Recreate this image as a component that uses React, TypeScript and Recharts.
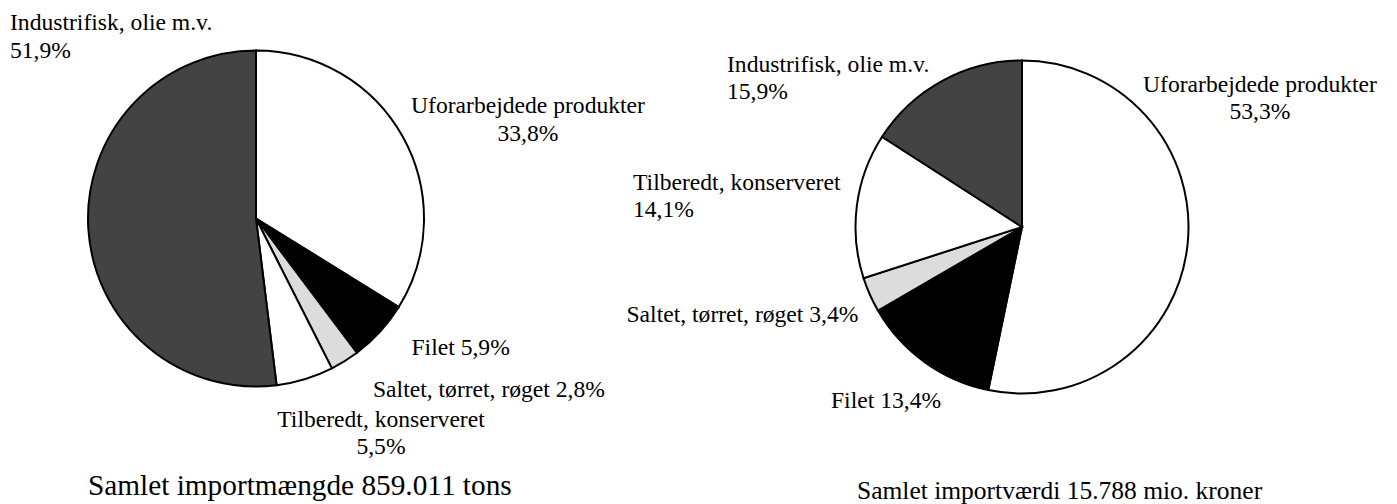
import React from "react";
import { PieChart, Pie, Cell } from "recharts";

const categories = [
  "Uforarbejdede produkter",
  "Filet",
  "Saltet, tørret, røget",
  "Tilberedt, konserveret",
  "Industrifisk, olie m.v.",
];
const importTonsShare = [33.8, 5.9, 2.8, 5.5, 51.9];
const importValueShare = [53.3, 13.4, 3.4, 14.1, 15.9];
const titles = ["Samlet importmængde 859.011 tons", "Samlet importværdi 15.788 mio. kroner"];

const sliceColors = ["#ffffff", "#000000", "#dcdcdc", "#ffffff", "#434343"];
const FONT = "'Liberation Serif', 'Times New Roman', serif";
const LABEL_SIZE = 23.6;

const fmt = (v: number) => v.toFixed(1).replace(".", ",") + "%";

type LabelLayout = { dx: number; dy: number; anchor: "start" | "middle"; split: boolean };

// label placement offsets relative to pie centre
const leftLayout: LabelLayout[] = [
  { dx: 272, dy: -105.5, anchor: "middle", split: true },
  { dx: 155.5, dy: 136.5, anchor: "start", split: false },
  { dx: 117, dy: 178, anchor: "start", split: false },
  { dx: 125, dy: 208, anchor: "middle", split: true },
  { dx: -246, dy: -188.5, anchor: "start", split: true },
];
const rightLayout: LabelLayout[] = [
  { dx: 238, dy: -135.5, anchor: "middle", split: true },
  { dx: -191, dy: 181, anchor: "start", split: false },
  { dx: -395.5, dy: 95, anchor: "start", split: false },
  { dx: -389, dy: -37.5, anchor: "start", split: true },
  { dx: -295, dy: -155.5, anchor: "start", split: true },
];

const leftData = categories.map((name, i) => ({ name, value: importTonsShare[i] }));
const rightData = categories.map((name, i) => ({ name, value: importValueShare[i] }));

const makeLabel = (layout: LabelLayout[]) => (props: any) => {
  const { cx, cy, index, name, value } = props;
  const l = layout[index];
  const x = cx + l.dx;
  const y = cy + l.dy;
  const common = {
    fontFamily: FONT,
    fontSize: LABEL_SIZE,
    fill: "#000",
    textAnchor: l.anchor,
  } as const;
  if (l.split) {
    return (
      <text key={`lbl-${index}`} x={x} y={y} {...common}>
        <tspan x={x} y={y}>{name}</tspan>
        <tspan x={x} y={y + 27.5}>{fmt(value)}</tspan>
      </text>
    );
  }
  return (
    <text key={`lbl-${index}`} x={x} y={y} {...common}>
      {`${name} ${fmt(value)}`}
    </text>
  );
};

export default function App() {
  return (
    <div style={{ position: "absolute", left: 0, top: 0, width: 1397, height: 504, background: "#fff" }}>
      <PieChart width={1397} height={504} margin={{ top: 0, right: 0, bottom: 0, left: 0 }}>
        <Pie
          data={leftData}
          dataKey="value"
          nameKey="name"
          cx={256}
          cy={218.5}
          outerRadius={168}
          startAngle={90}
          endAngle={-270}
          stroke="#000"
          strokeWidth={2}
          labelLine={false}
          label={makeLabel(leftLayout)}
          isAnimationActive={false}
        >
          {leftData.map((d, i) => (
            <Cell key={`l-${i}`} fill={sliceColors[i]} stroke="#000" strokeWidth={2} />
          ))}
        </Pie>
        <Pie
          data={rightData}
          dataKey="value"
          nameKey="name"
          cx={1022}
          cy={227}
          outerRadius={166.5}
          startAngle={90}
          endAngle={-270}
          stroke="#000"
          strokeWidth={2}
          labelLine={false}
          label={makeLabel(rightLayout)}
          isAnimationActive={false}
        >
          {rightData.map((d, i) => (
            <Cell key={`r-${i}`} fill={sliceColors[i]} stroke="#000" strokeWidth={2} />
          ))}
        </Pie>
      </PieChart>
      <svg
        width={1397}
        height={504}
        style={{ position: "absolute", left: 0, top: 0, pointerEvents: "none" }}
      >
        <text x={88} y={495} fontFamily={FONT} fontSize={29.3} fill="#000">
          {titles[0]}
        </text>
        <text x={857} y={499} fontFamily={FONT} fontSize={25.5} fill="#000">
          {titles[1]}
        </text>
      </svg>
    </div>
  );
}
